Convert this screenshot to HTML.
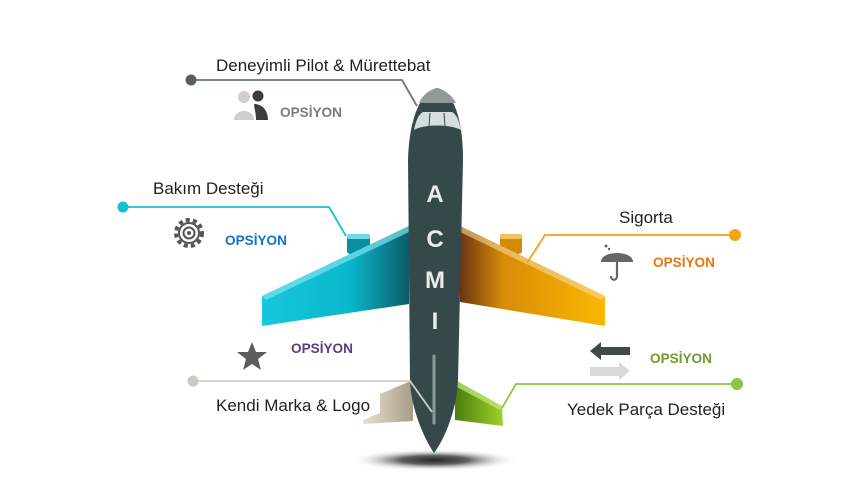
<!DOCTYPE html>
<html><head><meta charset="utf-8"><style>
body{margin:0;background:#fff;}
svg{display:block;font-family:"Liberation Sans",sans-serif;}
.t{font-family:"Liberation Sans",sans-serif;font-size:17px;fill:#222;}
.o{font-size:13.6px;font-weight:bold;}
</style></head><body>
<svg width="864" height="484" viewBox="0 0 864 484">
<defs>
<linearGradient id="lw" x1="0" x2="1"><stop offset="0" stop-color="#17c7dc"/><stop offset="0.6" stop-color="#09b7cc"/><stop offset="1" stop-color="#0b5d67"/></linearGradient>
<linearGradient id="rw" x1="0" x2="1"><stop offset="0" stop-color="#6b3410"/><stop offset="0.3" stop-color="#d98c08"/><stop offset="1" stop-color="#fbb800"/></linearGradient>
<linearGradient id="lt" x1="0" x2="1"><stop offset="0" stop-color="#e8e2d4"/><stop offset="1" stop-color="#a89d85"/></linearGradient>
<linearGradient id="rt" x1="0" x2="1"><stop offset="0" stop-color="#4b7d0c"/><stop offset="1" stop-color="#9fd22a"/></linearGradient>
<radialGradient id="sh"><stop offset="0" stop-color="#000"/><stop offset="0.4" stop-color="#444"/><stop offset="1" stop-color="#fff" stop-opacity="0"/></radialGradient>
</defs>
<ellipse cx="434" cy="460" rx="85" ry="11" fill="url(#sh)" opacity="0.85"/>
<!-- engines -->
<rect x="347" y="234" width="23" height="20" rx="3" fill="#0a8fa0"/><rect x="347" y="234" width="23" height="5" rx="2" fill="#6fdbe6"/>
<rect x="500" y="234" width="22" height="20" rx="3" fill="#d28a08"/><rect x="500" y="234" width="22" height="5" rx="2" fill="#f3c45c"/>
<!-- wings -->
<polygon points="409,226 262,296 262,326 409,304" fill="url(#lw)"/>
<polygon points="409,226 262,296 266,300 409,232" fill="#7fe3ee" opacity="0.7"/>
<polygon points="460,226 605,296 605,326 460,302" fill="url(#rw)"/>
<polygon points="460,226 605,296 601,300 460,232" fill="#f5d79a" opacity="0.6"/>
<!-- tails -->
<polygon points="413,380 380,394 380,413 363,420 363,424 413,421" fill="url(#lt)"/>
<polygon points="455,380 502,406 503,426 455,420" fill="url(#rt)"/>
<polygon points="455,380 502,406 500,410 455,386" fill="#c4ec7c" opacity="0.7"/>
<!-- fuselage -->
<path d="M437,88 C420,92 409,120 408,160 L410,380 C411,410 425,440 434,453 C444,440 457,410 458,380 L463,160 C463,120 454,92 437,88 Z" fill="#35494a"/>
<path d="M437,88 C428,90 422,96 419,103 L456,103 C452,96 446,90 437,88 Z" fill="#8f9b99"/>
<path d="M414,130 C416,120 419,114 423,112 L452,112 C456,114 459,120 461,130 C450,124 424,124 414,130 Z" fill="#d6dedd"/>
<line x1="430" y1="113" x2="429" y2="126" stroke="#35494a" stroke-width="1"/><line x1="444" y1="113" x2="445" y2="126" stroke="#35494a" stroke-width="1"/>
<line x1="434" y1="356" x2="434" y2="423" stroke="#8a9a98" stroke-width="3" stroke-linecap="round"/>
<g fill="#e8eceb" font-weight="bold" font-size="24" text-anchor="middle">
<text x="435" y="202">A</text><text x="435" y="247">C</text><text x="435" y="288">M</text><text x="435" y="329">I</text></g>
<!-- connectors -->
<g fill="none" stroke-width="1.8">
<polyline points="191,80 402,80 417,106" stroke="#6b7575"/>
<polyline points="123,207 329,207 346,236" stroke="#15c0d6"/>
<polyline points="735,235 545,235 527,263" stroke="#f4a314"/>
<polyline points="193,381 410,381 432,412" stroke="#d2cfc7"/>
<polyline points="737,384 516,384 502,408" stroke="#8cc63e"/>
</g>
<circle cx="191" cy="80" r="5.5" fill="#56615f"/>
<circle cx="123" cy="207" r="5.5" fill="#15c0d6"/>
<circle cx="735" cy="235" r="6" fill="#f4a314"/>
<circle cx="193" cy="381" r="5.5" fill="#cdc9c0"/>
<circle cx="737" cy="384" r="6" fill="#8cc63e"/>
<!-- labels -->
<text class="t" x="216" y="71">Deneyimli Pilot &amp; Mürettebat</text>
<text class="t" x="153" y="194">Bakım Desteği</text>
<text class="t" x="619" y="223">Sigorta</text>
<text class="t" x="216" y="411">Kendi Marka &amp; Logo</text>
<text class="t" x="567" y="415">Yedek Parça Desteği</text>
<text class="o" x="280" y="117" fill="#7b7b7b">OPSİYON</text>
<text class="o" x="225" y="245" fill="#1374c4">OPSİYON</text>
<text class="o" x="653" y="267" fill="#e8740e">OPSİYON</text>
<text class="o" x="291" y="353" fill="#5a3c82">OPSİYON</text>
<text class="o" x="650" y="363" fill="#6f9a2c">OPSİYON</text>
<!-- icons -->
<g fill="#cfcfcf"><circle cx="244" cy="97" r="6"/><path d="M234,120 C234,108 254,108 254,120 Z"/></g>
<g fill="#3c3c3c"><circle cx="258" cy="96" r="5.5"/><path d="M254,104 C262,104 268,110 268,120 L256,120 C256,112 254,108 254,104 Z"/></g>
<g transform="translate(189,233)"><circle r="13" fill="none" stroke="#555" stroke-width="4" stroke-dasharray="4 3.2"/><circle r="10" fill="#fff" stroke="#555" stroke-width="2"/><circle r="5.5" fill="none" stroke="#555" stroke-width="2"/><circle r="2" fill="#555"/></g>
<path d="M252,342 l4,10 11,0 -9,7 3,11 -9,-6 -9,6 3,-11 -9,-7 11,0 z" fill="#5c5c5c"/>
<path d="M601,262 C601,250 633,250 633,262 Z" fill="#666"/><path d="M617,260 L617,276 C617,281 611,281 611,276" fill="none" stroke="#666" stroke-width="2.2"/>
<circle cx="606" cy="246" r="1.5" fill="#666"/><circle cx="609" cy="249" r="1.2" fill="#666"/>
<polygon points="590,351 601,342 601,347 630,347 630,355 601,355 601,360" fill="#3d4a49"/>
<polygon points="630,371 619,362 619,367 590,367 590,376 619,376 619,380" fill="#d8dad9"/>
</svg>
</body></html>
